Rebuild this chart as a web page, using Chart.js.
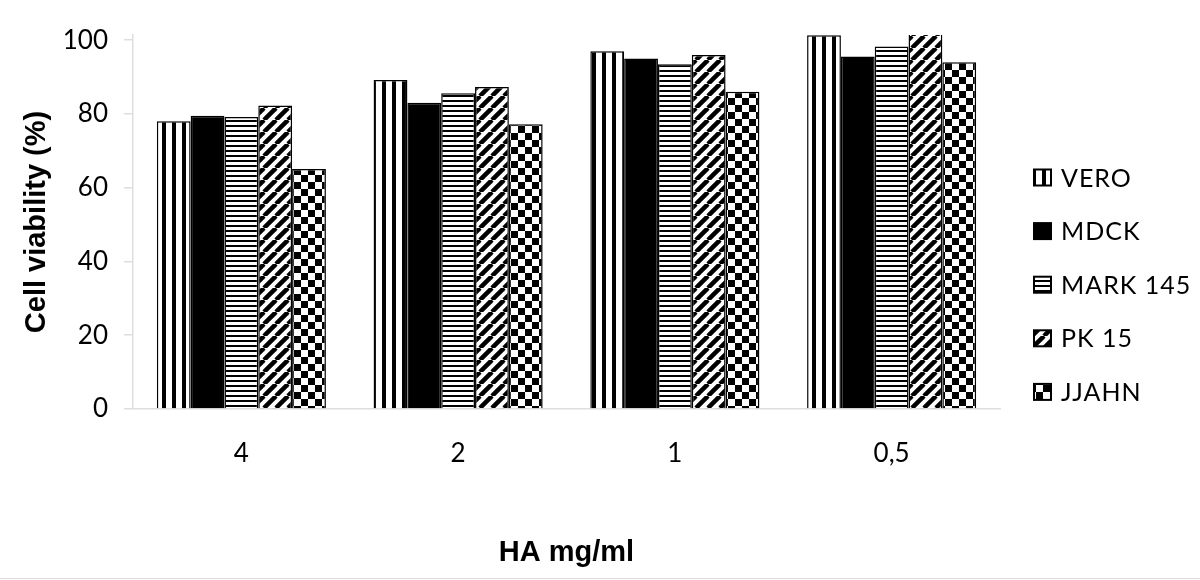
<!DOCTYPE html>
<html>
<head>
<meta charset="utf-8">
<script src="https://cdn.jsdelivr.net/npm/chart.js@4/dist/chart.umd.min.js"></script>
<style>
    html, body { margin: 0; padding: 0; background: #fff; }
    #contenedor { width: 1200px; height: 578px; border-bottom: 1px solid #dcdcdc; }
</style>
</head>
<body>
<div id="contenedor"><canvas id="canvasViabilidad" width="1200" height="578"></canvas></div>
<script>
const categorias = ['4', '2', '1', '0,5'];
const series = ['VERO', 'MDCK', 'MARK 145', 'PK 15', 'JJAHN'];

const vero = [78, 89.2, 97, 101.3];
const mdck = [79.5, 83, 95, 95.6];
const mark145 = [79.2, 85.6, 93.5, 98.3];
const pk15 = [82.3, 87.3, 96, 104];
const jjahn = [65.1, 77.2, 86, 94];

const ticksY = [0, 20, 40, 60, 80, 100];

// patrones de relleno (blanco y negro)
const ctxTmp = document.createElement('canvas').getContext('2d');
function patron(tam, dibujar) {
    const c = document.createElement('canvas');
    c.width = tam; c.height = tam;
    const g = c.getContext('2d');
    g.fillStyle = '#fff';
    g.fillRect(0, 0, tam, tam);
    g.fillStyle = '#000';
    g.strokeStyle = '#000';
    dibujar(g, tam);
    return ctxTmp.createPattern(c, 'repeat');
}

const rellenos = [
    patron(10, (g) => { g.fillRect(2, 0, 4, 10); }),
    '#000',
    patron(5, (g) => { g.fillRect(0, 0, 5, 2); }),
    patron(12, (g, t) => {
        g.lineWidth = 4.5;
        for (let k = -1; k <= 1; k++) {
            g.beginPath();
            g.moveTo(k * t, t);
            g.lineTo(k * t + t, 0);
            g.stroke();
        }
    }),
    patron(14, (g) => { g.fillRect(0, 0, 7, 7); g.fillRect(7, 7, 7, 7); })
];

const valores = [vero, mdck, mark145, pk15, jjahn];

const leyendaLateral = {
    id: 'leyendaLateral',
    afterDraw(chart) {
        const ctx = chart.ctx;
        const inicioY = 177.5;
        const paso = 53.6;
        ctx.save();
        ctx.font = '25px Lato';
        ctx.letterSpacing = '1px';
        ctx.textBaseline = 'middle';
        chart.data.datasets.forEach((ds, i) => {
            const y = inicioY + i * paso;
            ctx.fillStyle = ds.backgroundColor;
            ctx.fillRect(1034, y - 8, 17, 16);
            ctx.lineWidth = 2;
            ctx.strokeStyle = '#000';
            ctx.strokeRect(1034, y - 8, 17, 16);
            ctx.fillStyle = '#000';
            ctx.fillText(ds.label, 1061, y + 1);
        });
        ctx.restore();
    }
};

const ctx = document.getElementById('canvasViabilidad');
new Chart(ctx, {
    type: 'bar',
    data: {
        labels: categorias,
        datasets: series.map((nombre, i) => ({
            label: nombre,
            data: valores[i],
            backgroundColor: rellenos[i],
            borderColor: '#000',
            borderWidth: 1.5,
            borderSkipped: 'bottom',
            categoryPercentage: 0.78,
            barPercentage: 1,
            clip: 0
        }))
    },
    options: {
        responsive: false,
        animation: false,
        layout: { padding: { left: 0, top: 35, right: 200, bottom: 0 } },
        plugins: {
            legend: { display: false },
            tooltip: { enabled: false }
        },
        scales: {
            x: {
                grid: { display: false, drawTicks: false },
                border: { display: true, color: '#dedede', width: 1.5 },
                ticks: { color: '#000', padding: 29, font: { family: 'Lato', size: 26 } },
                title: {
                    display: true,
                    text: 'HA mg/ml',
                    color: '#000',
                    padding: { top: 0, bottom: 8 },
                    font: { family: 'Liberation Sans', size: 29, weight: 'bold' }
                },
                afterFit(scale) { scale.height = 169; }
            },
            y: {
                min: 0,
                max: 101.4,
                afterBuildTicks(scale) { scale.ticks = ticksY.map(v => ({ value: v })); },
                grid: { display: true, drawOnChartArea: false, drawTicks: true, tickLength: 9, color: '#dedede', lineWidth: 1.5 },
                border: { display: true, color: '#dedede', width: 1.5 },
                ticks: { color: '#000', padding: 16, font: { family: 'Lato', size: 26 } },
                title: {
                    display: true,
                    text: 'Cell viability (%)',
                    color: '#000',
                    padding: { top: 20, bottom: 0 },
                    font: { family: 'Liberation Sans', size: 29, weight: 'bold' }
                },
                afterFit(scale) { scale.width = 133; }
            }
        }
    },
    plugins: [leyendaLateral]
});
</script>
</body>
</html>
